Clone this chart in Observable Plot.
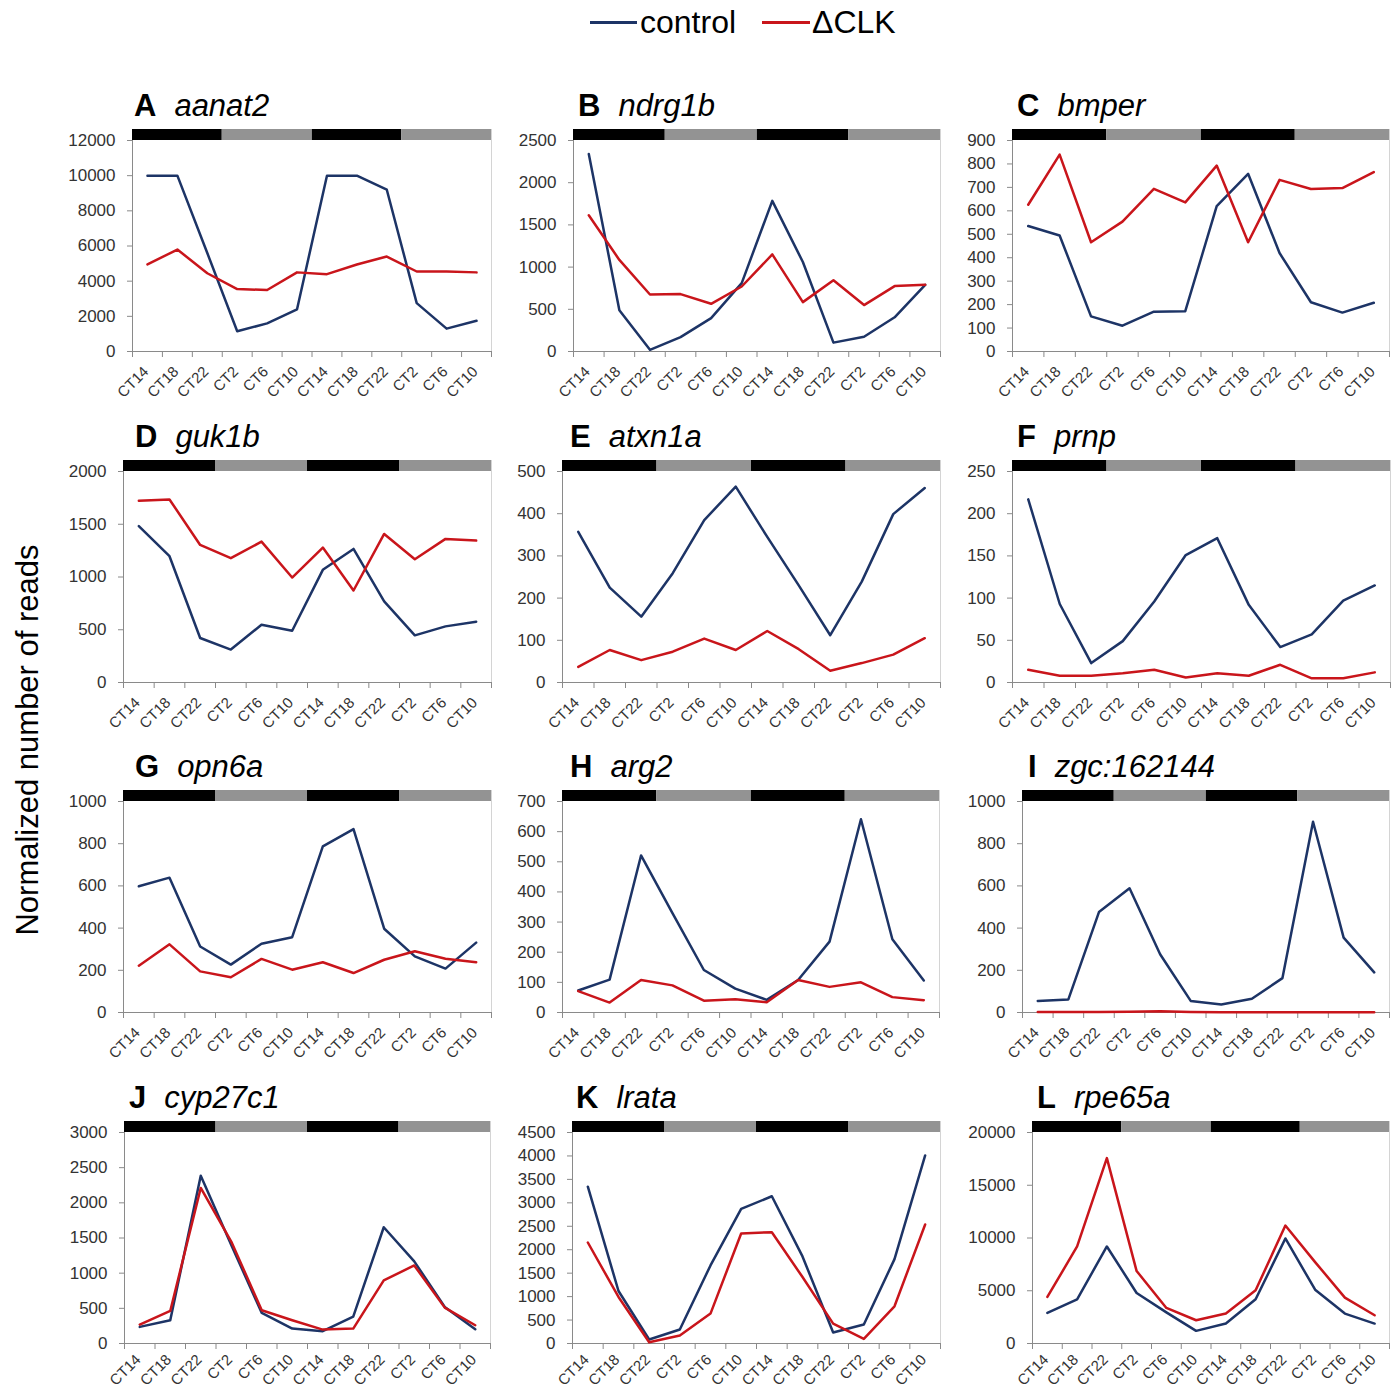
<!DOCTYPE html>
<html><head><meta charset="utf-8">
<script src="https://cdn.jsdelivr.net/npm/d3@7"></script>
<script src="https://cdn.jsdelivr.net/npm/@observablehq/plot@0.6"></script>
<style>
body{margin:0;background:#fff;font-family:"Liberation Sans",Arial,sans-serif;}
#page{position:relative;width:1395px;height:1391px;overflow:hidden;background:#fff;}
.title{position:absolute;font-size:31px;line-height:31px;color:#000;white-space:nowrap;}
.title b{margin-right:18px;font-weight:bold;}
.title i{font-style:italic;}
.leg{position:absolute;font-size:32px;line-height:32px;color:#000;white-space:nowrap;}
.legline{position:absolute;height:3px;}
.ytitle{position:absolute;font-size:31px;line-height:31px;white-space:nowrap;transform:translate(-50%,-50%) rotate(-90deg);color:#000;}
.panel{position:absolute;}
</style></head><body><div id="page"></div>
<script>
// ---- data ----
const timepoints = ["CT14","CT18","CT22","CT2","CT6","CT10","CT14","CT18","CT22","CT2","CT6","CT10"];
const phaseNames = ["night","day","night","day"];
const phaseFirstSample = [0,3,6,9];
const phaseLastSample = [2,5,8,11];
const seriesNames = ["control","ΔCLK"];

const letters = ["A","B","C","D","E","F","G","H","I","J","K","L"];
const genes = ["aanat2","ndrg1b","bmper","guk1b","atxn1a","prnp","opn6a","arg2","zgc:162144","cyp27c1","lrata","rpe65a"];
const yMaxima = [12000,2500,900,2000,500,250,1000,700,1000,3000,4500,20000];
const yTickSteps = [2000,500,100,500,100,50,200,100,200,500,500,5000];

const aanat2_control = [10000,10000,5600,1150,1600,2400,10000,10000,9200,2750,1300,1750];
const aanat2_dclk    = [4950,5800,4450,3550,3500,4500,4400,4950,5400,4550,4550,4500];
const ndrg1b_control = [2340,490,20,170,395,810,1785,1060,105,175,405,790];
const ndrg1b_dclk    = [1615,1085,675,680,565,770,1150,585,845,550,775,790];
const bmper_control  = [535,495,150,110,170,172,620,758,420,210,166,208];
const bmper_dclk     = [626,840,466,554,694,636,793,466,732,693,697,765];
const guk1b_control  = [1483,1197,422,312,548,491,1068,1266,769,447,532,576];
const guk1b_dclk     = [1723,1735,1304,1178,1335,995,1279,872,1408,1169,1361,1345];
const atxn1a_control = [357,225,156,259,385,464,345,230,112,239,399,461];
const atxn1a_dclk    = [37,77,53,73,104,77,122,79,28,46,66,105];
const prnp_control   = [217,93,23,49,96,151,171,92,42,57,97,115];
const prnp_dclk      = [15,8,8,11,15,6,11,8,21,5,5,12];
const opn6a_control  = [598,639,313,227,326,357,787,869,397,266,208,331];
const opn6a_dclk     = [222,323,195,167,254,203,238,187,250,290,255,238];
const arg2_control   = [73,109,521,330,141,79,42,108,235,641,243,106];
const arg2_dclk      = [71,33,108,90,39,44,34,108,85,100,51,41];
const zgc162144_control = [55,62,476,589,276,55,38,65,163,904,355,190];
const zgc162144_dclk    = [2,2,2,3,6,2,1,1,1,1,1,1];
const cyp27c1_control = [236,331,2386,1400,435,213,175,383,1653,1167,520,203];
const cyp27c1_dclk    = [269,463,2211,1450,472,330,198,212,897,1110,510,260];
const lrata_control  = [3345,1120,85,298,1665,2870,3140,1857,234,404,1800,4011];
const lrata_dclk     = [2154,992,28,170,638,2346,2374,1417,425,99,794,2537];
const rpe65a_control = [2898,4189,9197,4787,2950,1197,1890,4189,9953,5102,2835,1890];
const rpe65a_dclk    = [4409,9197,17575,6866,3370,2205,2835,5039,11181,7717,4346,2677];

const controlSeries = [aanat2_control,ndrg1b_control,bmper_control,guk1b_control,atxn1a_control,prnp_control,opn6a_control,arg2_control,zgc162144_control,cyp27c1_control,lrata_control,rpe65a_control];
const dclkSeries = [aanat2_dclk,ndrg1b_dclk,bmper_dclk,guk1b_dclk,atxn1a_dclk,prnp_dclk,opn6a_dclk,arg2_dclk,zgc162144_dclk,cyp27c1_dclk,lrata_dclk,rpe65a_dclk];

// ---- layout (pixels) ----
const plotLefts  = [132,573,1012, 123,562,1012, 123,562,1022, 124,572,1032];
const plotRights = [491,940,1389, 491,940,1390, 491,939,1389, 490,940,1389];
const rowTops = [129,460,790,1121];
const labelOffsets = [21,21,21,17];
const titleXs = [134,578,1017, 135,570,1017, 135,570,1028, 129,576,1037];

const NAVY = "#1d3466", RED = "#c9151b", AXIS = "#8a8a8a", LABEL = "#333";
const FONT = '"Liberation Sans", Arial, sans-serif';

const page = document.getElementById("page");

// legend
function addLegend(x0, x1, tx, color, label) {
  const l = document.createElement("div");
  l.className = "legline";
  l.style.left = x0 + "px"; l.style.width = (x1 - x0) + "px"; l.style.top = "21px"; l.style.background = color;
  page.appendChild(l);
  const t = document.createElement("div");
  t.className = "leg"; t.textContent = label;
  t.style.left = tx + "px"; t.style.top = "6px";
  page.appendChild(t);
}
addLegend(590, 637, 640, NAVY, seriesNames[0]);
addLegend(762, 810, 812, RED, seriesNames[1]);

// y title
const yt = document.createElement("div");
yt.className = "ytitle"; yt.textContent = "Normalized number of reads";
yt.style.left = "27px"; yt.style.top = "740px";
page.appendChild(yt);

const ML = 75, MR = 8, MB = 60, FRAME = 222, BAR = 11;
const phases = phaseNames.map((p, i) => ({phase: p, x1: phaseFirstSample[i], x2: phaseLastSample[i] + 1}));

letters.forEach((letter, k) => {
  const row = Math.floor(k / 3);
  const top = rowTops[row];
  const W = plotRights[k] - plotLefts[k];
  const yMax = yMaxima[k];
  const rows = [];
  timepoints.forEach((t, i) => {
    rows.push({i, series: seriesNames[0], value: controlSeries[k][i]});
  });
  timepoints.forEach((t, i) => {
    rows.push({i, series: seriesNames[1], value: dclkSeries[k][i]});
  });
  const labels = timepoints.map((t, i) => ({i, t}));

  const svg = Plot.plot({
    width: W + ML + MR,
    height: FRAME + MB,
    marginLeft: ML, marginRight: MR, marginTop: 0, marginBottom: MB,
    style: {background: "transparent", overflow: "visible", maxWidth: "none", fontFamily: FONT},
    x: {type: "linear", domain: [0, 12], axis: null},
    y: {domain: [0, yMax], range: [FRAME, BAR], axis: null},
    marks: [
      Plot.ruleX([12], {stroke: "#d4d4d4"}),
      Plot.axisY({ticks: d3.range(0, yMax + 1, yTickSteps[k]), tickSize: 5, tickPadding: 12, fontSize: 17,
                  stroke: AXIS, fill: LABEL, label: null, tickFormat: d => String(d)}),
      Plot.ruleX([0], {y1: 0, y2: yMax, stroke: AXIS}),
      Plot.ruleY([0], {stroke: AXIS}),
      Plot.axisX({ticks: d3.range(13), tickSize: 6, tickFormat: () => "", label: null, stroke: AXIS}),
      Plot.text(labels, {x: d => d.i + 0.5, text: "t", frameAnchor: "bottom", rotate: -45, textAnchor: "end",
                         dx: 2, dy: labelOffsets[row], fontSize: 15, fill: LABEL}),
      Plot.line(rows.filter(d => d.series === seriesNames[0]), {x: d => d.i + 0.5, y: "value", stroke: NAVY, strokeWidth: 2.5}),
      Plot.line(rows.filter(d => d.series === seriesNames[1]), {x: d => d.i + 0.5, y: "value", stroke: RED, strokeWidth: 2.5}),
      Plot.rect(phases.filter(d => d.phase === "night"), {x1: "x1", x2: "x2", fill: "#000", insetBottom: FRAME - BAR}),
      Plot.rect(phases.filter(d => d.phase === "day"), {x1: "x1", x2: "x2", fill: "#939393", insetBottom: FRAME - BAR})
    ]
  });
  const holder = document.createElement("div");
  holder.className = "panel";
  holder.style.left = (plotLefts[k] - ML) + "px";
  holder.style.top = top + "px";
  holder.appendChild(svg);
  page.appendChild(holder);

  const title = document.createElement("div");
  title.className = "title";
  title.style.left = titleXs[k] + "px";
  title.style.top = (top - 13 - 26.2) + "px";
  const b = document.createElement("b"); b.textContent = letter;
  const it = document.createElement("i"); it.textContent = genes[k];
  title.appendChild(b); title.appendChild(it);
  page.appendChild(title);
});
</script>
</body></html>
